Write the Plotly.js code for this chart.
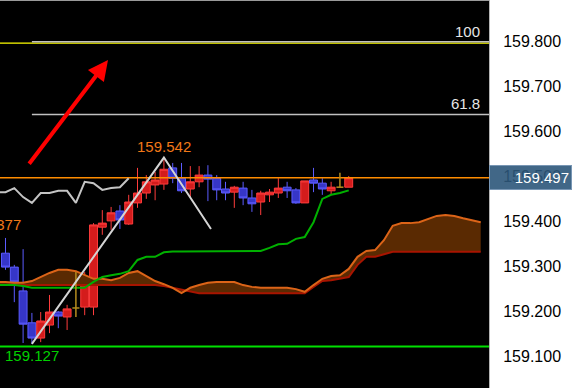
<!DOCTYPE html>
<html><head><meta charset="utf-8">
<script src="https://cdn.plot.ly/plotly-3.0.1.min.js"></script>
<style>html,body{margin:0;padding:0;background:#fff;overflow:hidden}#chart{width:572px;height:388px}</style>
</head><body><div id="chart"></div>
<script>
// ---- candle data (bar index 0..39) ----
const open  = [159.329,159.298,159.245,159.174,159.140,159.169,159.198,159.187,159.207,159.209,
               159.209,159.387,159.401,159.423,159.394,159.441,159.463,159.481,159.483,159.519,
               159.496,159.472,159.488,159.503,159.496,159.472,159.465,159.474,159.452,159.443,
               159.459,159.463,159.476,159.470,159.441,159.492,159.485,159.468,159.476,159.476];
const high  = [159.363,159.303,159.338,159.196,159.198,159.236,159.200,159.214,159.287,159.287,
               159.396,159.425,159.432,159.436,159.459,159.519,159.503,159.510,159.542,159.530,
               159.530,159.523,159.523,159.525,159.503,159.488,159.479,159.488,159.470,159.468,
               159.472,159.496,159.488,159.474,159.490,159.519,159.496,159.488,159.508,159.501];
const low   = [159.292,159.220,159.129,159.127,159.131,159.151,159.162,159.158,159.187,159.191,
               159.191,159.370,159.381,159.383,159.392,159.430,159.450,159.447,159.470,159.485,
               159.463,159.454,159.476,159.445,159.447,159.447,159.430,159.436,159.421,159.414,
               159.443,159.452,159.452,159.439,159.441,159.465,159.459,159.459,159.476,159.476];
const close = [159.298,159.265,159.171,159.140,159.178,159.198,159.189,159.205,159.207,159.274,
               159.392,159.396,159.419,159.403,159.443,159.463,159.488,159.492,159.516,159.496,
               159.468,159.488,159.503,159.494,159.470,159.463,159.476,159.452,159.439,159.463,
               159.465,159.474,159.468,159.441,159.490,159.485,159.472,159.476,159.476,159.497];

// ---- Ichimoku lines ----
const kijunStart = -1;
const kijun = [159.258,159.258,159.258,159.256,159.252,159.252,159.252,159.252,159.252,159.252,159.252,
               159.265,159.276,159.280,159.283,159.289,159.314,159.321,159.321,159.331,159.333,
               159.333,159.333,159.333,159.333,159.333,159.333,159.333,159.333,159.333,159.334,
               159.341,159.349,159.350,159.361,159.365,159.398,159.450,159.459,159.463,159.469];
const chikouStart = -1;
const chikou = [159.465,159.465,159.474,159.454,159.441,159.463,159.463,159.468,159.468,159.441,
                159.488,159.485,159.470,159.474,159.476,159.496];
const cloudStart = -1;
const spanA = [159.265,159.265,159.263,159.263,159.267,159.276,159.285,159.292,159.292,159.289,
               159.280,159.272,159.272,159.269,159.274,159.285,159.289,159.278,159.267,159.260,
               159.252,159.240,159.252,159.258,159.263,159.265,159.265,159.265,159.258,159.254,
               159.252,159.252,159.252,159.252,159.249,159.243,159.258,159.272,159.278,159.280,
               159.294,159.321,159.334,159.336,159.358,159.390,159.396,159.396,159.398,159.405,
               159.412,159.414,159.412,159.407,159.403,159.398];
const spanB = [159.258,159.258,159.258,159.258,159.258,159.258,159.258,159.258,159.258,159.258,
               159.258,159.258,159.258,159.258,159.258,159.258,159.258,159.258,159.258,159.256,
               159.252,159.247,159.243,159.240,159.240,159.240,159.240,159.240,159.240,159.240,
               159.240,159.240,159.240,159.240,159.240,159.240,159.254,159.267,159.269,159.272,
               159.276,159.303,159.321,159.321,159.327,159.332,159.332,159.332,159.332,159.332,
               159.332,159.332,159.332,159.332,159.332,159.332];

// ---- drawn objects ----
const zigzagX = [3, 18, 23.35];
const zigzagY = [159.127, 159.542, 159.383];
const fibLabels = ['100', '61.8'];
const fibLevels = [159.800, 159.638];
const fibStartBar = 3;
const yellowLevel = 159.797;
const greenLevel = 159.121;
const arrowX = [2.56, 11.65];
const arrowY = [159.525, 159.759];
const prevLabel = {text: '159.377', bar: 2, price: 159.377};
const yTicks = [159.1, 159.2, 159.3, 159.4, 159.5, 159.6, 159.7, 159.8];
const xRange = [-0.625, 54.94];
const yRange = [159.0288, 159.8929];

const FONT = 'Liberation Sans, Arial, sans-serif';
const seq = (start, n) => Array.from({length: n}, (_, k) => start + k);
const idx = open.map((_, i) => i);
const candleIdx = idx.filter(i => open[i] !== close[i]);
const dojiIdx = idx.filter(i => open[i] === close[i]);
const lastClose = close[close.length - 1];
const hLine = (y, color, w, x0) => ({x: [x0 === undefined ? xRange[0] - 1 : x0, xRange[1] + 1], y: [y, y],
  type: 'scatter', mode: 'lines', line: {color: color, width: w}, hoverinfo: 'skip', showlegend: false});

const dojiX = [], dojiY = [];
dojiIdx.forEach(i => {
  dojiX.push(i, i, null, i - 0.4, i + 0.4, null);
  dojiY.push(low[i], high[i], null, open[i], open[i], null);
});

const cloudX = seq(cloudStart, spanA.length);
const traces = [
  {x: cloudX, y: spanB, type: 'scatter', mode: 'lines', line: {color: '#a81400', width: 2}, hoverinfo: 'skip', showlegend: false},
  {x: cloudX, y: spanA, type: 'scatter', mode: 'lines', fill: 'tonexty', fillcolor: '#5a2a02',
   line: {color: '#dc6418', width: 2}, hoverinfo: 'skip', showlegend: false},
  hLine(yellowLevel, '#ffff00', 1.2),
  hLine(fibLevels[0], '#c0c0c0', 1.5, fibStartBar),
  hLine(fibLevels[1], '#c0c0c0', 1.5, fibStartBar),
  hLine(lastClose, '#ff8c00', 1.6),
  hLine(greenLevel, '#00e000', 2),
  {x: seq(kijunStart, kijun.length), y: kijun, type: 'scatter', mode: 'lines', line: {color: '#00b000', width: 2}, hoverinfo: 'skip', showlegend: false},
  {x: seq(chikouStart, chikou.length), y: chikou, type: 'scatter', mode: 'lines', line: {color: '#c4c4c4', width: 2}, hoverinfo: 'skip', showlegend: false},
  {type: 'candlestick', x: candleIdx,
   open: candleIdx.map(i => open[i]), high: candleIdx.map(i => high[i]),
   low: candleIdx.map(i => low[i]), close: candleIdx.map(i => close[i]),
   increasing: {line: {color: '#ff3c3c', width: 1}, fillcolor: '#d41c1c'},
   decreasing: {line: {color: '#5c5cff', width: 1}, fillcolor: '#3636c8'},
   whiskerwidth: 0, hoverinfo: 'skip', showlegend: false},
  {x: dojiX, y: dojiY, type: 'scatter', mode: 'lines', line: {color: '#b48c1e', width: 1.5}, hoverinfo: 'skip', showlegend: false},
  {x: zigzagX, y: zigzagY, type: 'scatter', mode: 'lines', line: {color: '#d4d4d4', width: 2}, hoverinfo: 'skip', showlegend: false}
];

const annotations = [
  {x: zigzagX[1], y: zigzagY[1], xref: 'x', yref: 'y', text: zigzagY[1].toFixed(3), showarrow: false,
   yanchor: 'bottom', yshift: 1, font: {family: FONT, size: 15, color: '#f07818'}},
  {x: zigzagX[0], y: zigzagY[0], xref: 'x', yref: 'y', text: zigzagY[0].toFixed(3), showarrow: false,
   yanchor: 'top', yshift: -1, font: {family: FONT, size: 15, color: '#00d000'}},
  {x: prevLabel.bar, y: prevLabel.price, xref: 'x', yref: 'y', text: prevLabel.text, showarrow: false,
   xanchor: 'right', yanchor: 'bottom', yshift: -3, font: {family: FONT, size: 15, color: '#f07818'}},
  {x: arrowX[1], y: arrowY[1], ax: arrowX[0], ay: arrowY[0], xref: 'x', yref: 'y', axref: 'x', ayref: 'y',
   text: '', showarrow: true, arrowhead: 2, arrowsize: 1, arrowwidth: 4, arrowcolor: '#ff0000'},
  {xref: 'paper', x: 1, xanchor: 'left', yref: 'y', y: lastClose, yanchor: 'middle', text: lastClose.toFixed(3),
   showarrow: false, font: {family: FONT, size: 15, color: '#ffffff'}, bgcolor: 'rgba(44,86,122,0.9)',
   bordercolor: '#7896b4', borderwidth: 1, borderpad: 2, width: 77, height: 19, align: 'right'}
];
fibLevels.forEach((lv, k) => annotations.push({
  xref: 'paper', x: 0.986, xanchor: 'right', yref: 'y', y: lv, yanchor: 'bottom', yshift: 0,
  text: fibLabels[k], showarrow: false, font: {family: FONT, size: 15, color: '#e6e6e6'}}));

const layout = {
  width: 572, height: 388,
  margin: {l: 0, r: 83, t: 0, b: 0, pad: 0},
  paper_bgcolor: '#ffffff', plot_bgcolor: '#000000',
  showlegend: false, boxgap: 0.1, boxgroupgap: 0,
  xaxis: {range: xRange, visible: false, fixedrange: true, rangeslider: {visible: false}},
  yaxis: {range: yRange, side: 'right', tickvals: yTicks, ticktext: yTicks.map(v => v.toFixed(3)),
          showgrid: false, zeroline: false, showline: true, linecolor: '#b4b4b4', linewidth: 1,
          ticks: 'outside', ticklen: 10, tickcolor: '#ffffff',
          tickfont: {family: FONT, size: 16, color: '#000000'}, fixedrange: true},
  shapes: [{type: 'line', xref: 'paper', yref: 'paper', x0: 0, x1: 1, y0: 1, y1: 1, line: {color: '#9a9a9a', width: 2}}],
  annotations: annotations
};

Plotly.newPlot('chart', traces, layout, {staticPlot: true, displayModeBar: false});
</script>
</body></html>
